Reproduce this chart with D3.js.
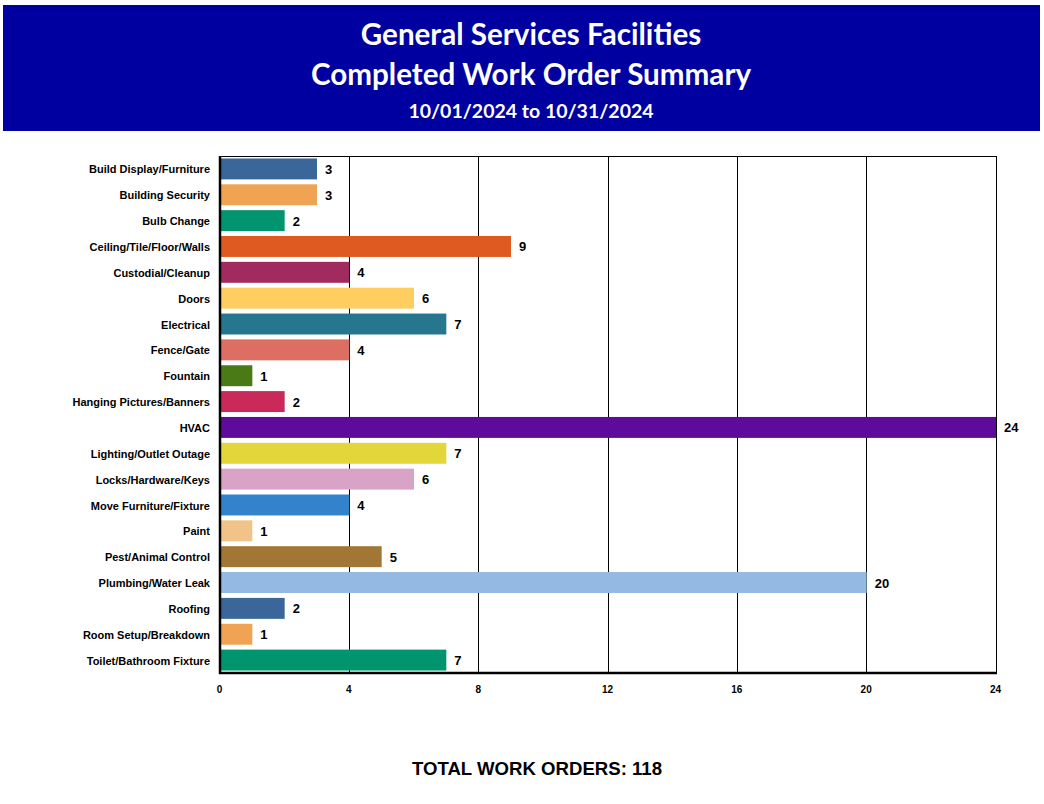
<!DOCTYPE html>
<html>
<head>
<meta charset="utf-8">
<script src="https://cdn.jsdelivr.net/npm/d3@7"></script>
<style>
  html, body { margin: 0; padding: 0; background: #ffffff; }
  svg { display: block; }
</style>
</head>
<body>
<svg id="chart" width="1044" height="804"></svg>
<script>
const categories = [
  "Build Display/Furniture", "Building Security", "Bulb Change", "Ceiling/Tile/Floor/Walls",
  "Custodial/Cleanup", "Doors", "Electrical", "Fence/Gate", "Fountain",
  "Hanging Pictures/Banners", "HVAC", "Lighting/Outlet Outage", "Locks/Hardware/Keys",
  "Move Furniture/Fixture", "Paint", "Pest/Animal Control", "Plumbing/Water Leak",
  "Roofing", "Room Setup/Breakdown", "Toilet/Bathroom Fixture"
];
const values = [3, 3, 2, 9, 4, 6, 7, 4, 1, 2, 24, 7, 6, 4, 1, 5, 20, 2, 1, 7];
const colors = [
  "#3a6699", "#f0a352", "#00956e", "#de5a20", "#a12b5f", "#ffcd60", "#26778e",
  "#dc6f62", "#4a7a16", "#c92a5a", "#5e0a9a", "#e3d63a", "#d9a3c7", "#3383cc",
  "#f2c388", "#a27634", "#94b9e2", "#3a6699", "#f0a352", "#00956e"
];
const xTicks = [0, 4, 8, 12, 16, 20, 24];
const titleLines = ["General Services Facilities", "Completed Work Order Summary"];
const subtitle = "10/01/2024 to 10/31/2024";
const totalLabel = "TOTAL WORK ORDERS: " + d3.sum(values);

(function () {
const svg = d3.select("#chart");
const sans = "'Liberation Sans', Arial, sans-serif";

// header
svg.append("rect").attr("x", 3).attr("y", 5).attr("width", 1037).attr("height", 126).attr("fill", "#0000a0");
const titleFont = "Lato, 'Open Sans', sans-serif";
svg.append("text").attr("x", 531).attr("y", 45).attr("text-anchor", "middle")
  .attr("font-family", titleFont).attr("font-weight", "bold").attr("font-size", 29.6)
  .attr("fill", "#ffffff").text(titleLines[0]);
svg.append("text").attr("x", 531).attr("y", 85).attr("text-anchor", "middle")
  .attr("font-family", titleFont).attr("font-weight", "bold").attr("font-size", 29.6)
  .attr("fill", "#ffffff").text(titleLines[1]);
svg.append("text").attr("x", 531).attr("y", 118).attr("text-anchor", "middle")
  .attr("font-family", titleFont).attr("font-weight", "bold").attr("font-size", 19.5)
  .attr("fill", "#ffffff").text(subtitle);

// plot
const pL = 220, pR = 996, pT = 156, pB = 673;
const x = d3.scaleLinear().domain([0, 24]).range([pL, pR]);
const y = d3.scaleBand().domain(categories).range([pT, pB]).paddingInner(0.19).paddingOuter(0.095);

const g = svg.append("g");

g.selectAll("line.grid").data(xTicks.filter(t => t > 0 && t < 24)).enter().append("line")
  .attr("x1", d => x(d)).attr("x2", d => x(d)).attr("y1", pT).attr("y2", pB)
  .attr("stroke", "#000").attr("stroke-width", 1).attr("shape-rendering", "crispEdges");

g.append("rect").attr("x", pL).attr("y", pT).attr("width", pR - pL).attr("height", pB - pT)
  .attr("fill", "none").attr("stroke", "#000").attr("stroke-width", 1).attr("shape-rendering", "crispEdges");

g.selectAll("rect.bar").data(categories).enter().append("rect")
  .attr("x", x(0)).attr("y", d => y(d))
  .attr("width", (d, i) => x(values[i]) - x(0)).attr("height", y.bandwidth())
  .attr("fill", (d, i) => colors[i]);

g.append("line").attr("x1", pL).attr("x2", pL).attr("y1", pT).attr("y2", pB + 1)
  .attr("stroke", "#000").attr("stroke-width", 2.5);
g.append("line").attr("x1", pL - 1).attr("x2", pR + 1).attr("y1", pB).attr("y2", pB)
  .attr("stroke", "#000").attr("stroke-width", 2.5);

g.selectAll("text.val").data(categories).enter().append("text")
  .attr("x", (d, i) => x(values[i]) + 8).attr("y", d => y(d) + y.bandwidth() / 2 + 5)
  .attr("font-family", sans).attr("font-weight", "bold")
  .attr("font-size", 13).attr("fill", "#000").text((d, i) => values[i]);

const yAxis = d3.axisLeft(y).tickSize(0).tickPadding(10);
const ya = svg.append("g").attr("transform", `translate(${pL},1)`).call(yAxis);
ya.select(".domain").remove();
ya.selectAll("text").attr("font-family", sans)
  .attr("font-weight", "bold").attr("font-size", 11).attr("fill", "#000");

const xAxis = d3.axisBottom(x).tickValues(xTicks).tickSize(0).tickPadding(13);
const xa = svg.append("g").attr("transform", `translate(-1,${pB})`).call(xAxis);
xa.select(".domain").remove();
xa.selectAll("text").attr("font-family", sans)
  .attr("font-weight", "bold").attr("font-size", 10).attr("fill", "#000");

svg.append("text").attr("x", 537).attr("y", 775).attr("text-anchor", "middle")
  .attr("font-family", sans).attr("font-weight", "bold")
  .attr("font-size", 18.6).attr("fill", "#000").text(totalLabel);
})();
</script>
</body>
</html>
